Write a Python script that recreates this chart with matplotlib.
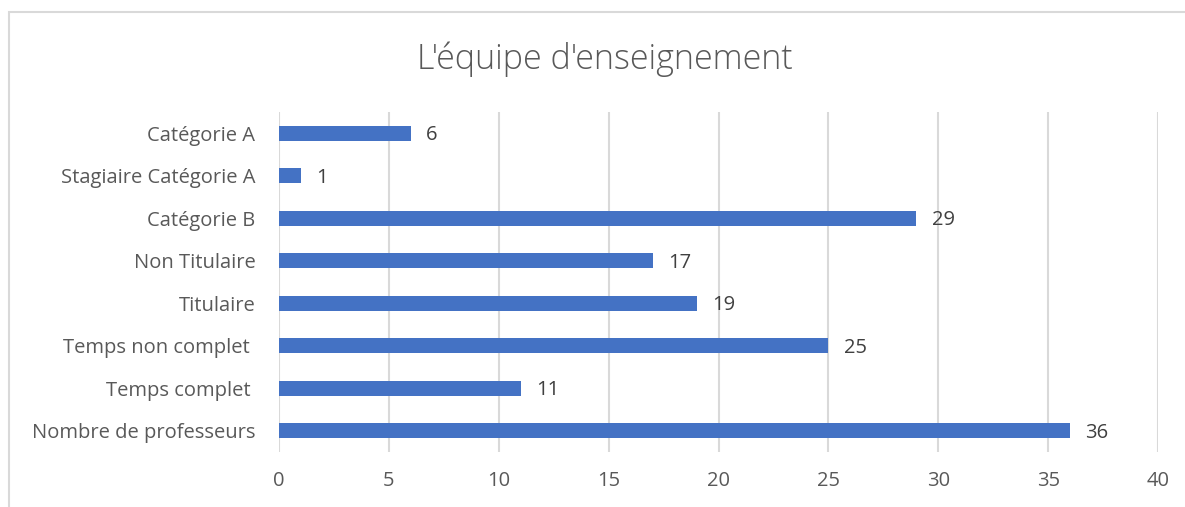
import matplotlib.pyplot as plt
from matplotlib.patches import Rectangle

categories = ["Nombre de professeurs", "Temps complet ", "Temps non complet ", "Titulaire",
              "Non Titulaire", "Catégorie B", "Stagiaire Catégorie A", "Catégorie A"]
values = [36, 11, 25, 19, 17, 29, 1, 6]
x_ticks = [0, 5, 10, 15, 20, 25, 30, 35, 40]

plt.rcParams['font.family'] = ['Open Sans', 'DejaVu Sans']

fig = plt.figure(figsize=(11.85, 5.07), dpi=100)
ax = fig.add_axes([279 / 1185, 1 - 452 / 507, (1158 - 279) / 1185, (452 - 112) / 507])

pos = list(range(len(categories)))
ax.barh(pos, values, height=0.36, color='#4472C4', zorder=3)
for p, v in zip(pos, values):
    ax.text(v + 0.7, p - 0.05, str(v), va='center', ha='left', fontsize=14.5, color='#404040')

ax.set_xlim(0, 40)
ax.set_ylim(-0.5, len(categories) - 0.5)
ax.set_xticks(x_ticks)
ax.set_yticks(pos)
ax.set_yticklabels(categories)
ax.tick_params(axis='both', length=0, labelsize=14.5, colors='#595959')
ax.tick_params(axis='y', pad=17)
ax.tick_params(axis='x', pad=14)
ax.grid(axis='x', color='#d9d9d9', linewidth=1.5, zorder=0)
for s in ax.spines.values():
    s.set_visible(False)

fig.text(605 / 1185, 1 - 59 / 507, "L'équipe d'enseignement", ha='center', va='center',
         fontsize=24.5, color='#595959', fontweight='light')

fig.patches.append(Rectangle((9 / 1185, -0.1), 1.2, 1 - 12 / 507 + 0.1, transform=fig.transFigure,
                             fill=False, edgecolor='#d9d9d9', linewidth=1.5))

fig.savefig('out.png', dpi=100)
